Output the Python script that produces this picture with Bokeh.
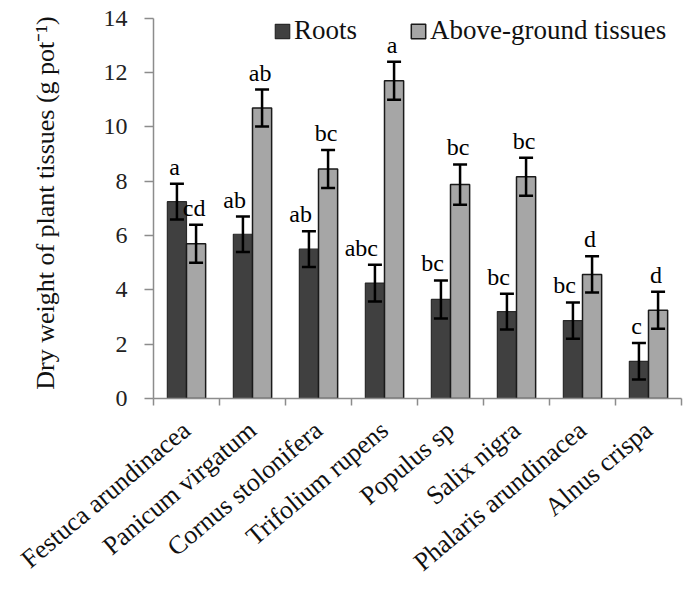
from bokeh.plotting import figure
from bokeh.models import (ColumnDataSource, FixedTicker, Range1d, Legend, LegendItem)
from bokeh.core.properties import value
from bokeh.embed import file_html
from bokeh.resources import INLINE

species = ["Festuca arundinacea", "Panicum virgatum", "Cornus stolonifera",
           "Trifolium rupens", "Populus sp", "Salix nigra",
           "Phalaris arundinacea", "Alnus crispa"]
roots = [7.25, 6.05, 5.5, 4.25, 3.65, 3.2, 2.87, 1.37]
roots_err = [0.66, 0.65, 0.66, 0.68, 0.70, 0.66, 0.67, 0.67]
above = [5.7, 10.7, 8.45, 11.7, 7.88, 8.17, 4.57, 3.25]
above_err = [0.70, 0.68, 0.70, 0.70, 0.74, 0.70, 0.67, 0.68]
roots_letters = ["a", "ab", "ab", "abc", "bc", "bc", "bc", "c"]
above_letters = ["cd", "ab", "bc", "a", "bc", "bc", "d", "d"]
y_ticks = [0, 2, 4, 6, 8, 10, 12, 14]

FONT = "Liberation Serif"
BW = 0.29
n = len(species)
centers = [i + 0.5 for i in range(n)]

src_r = ColumnDataSource(dict(
    x=[c - BW / 2 for c in centers], top=roots,
    lower=[v - e for v, e in zip(roots, roots_err)],
    upper=[v + e for v, e in zip(roots, roots_err)],
    lab=roots_letters))
src_a = ColumnDataSource(dict(
    x=[c + BW / 2 for c in centers], top=above,
    lower=[v - e for v, e in zip(above, above_err)],
    upper=[v + e for v, e in zip(above, above_err)],
    lab=above_letters))

p = figure(width=691, height=590, output_backend="svg", toolbar_location=None,
           x_range=Range1d(0, n), y_range=Range1d(0, 14.4),
           min_border_left=153, min_border_right=10, min_border_top=7,
           min_border_bottom=192)
p.outline_line_color = None
p.grid.visible = False
p.background_fill_color = "white"

r1 = p.vbar(x="x", top="top", bottom=0, width=BW, source=src_r, fill_color="#404040",
            line_color="#2a2a2a", line_width=1.2)
r2 = p.vbar(x="x", top="top", bottom=0, width=BW, source=src_a, fill_color="#a6a6a6",
            line_color="#1a1a1a", line_width=1.5)

for s in (src_r, src_a):
    p.segment(x0="x", y0="lower", x1="x", y1="upper", source=s,
              line_color="black", line_width=2.5)
    p.scatter(x="x", y="lower", source=s, marker="dash", size=14,
              line_color="black", line_width=2.5)
    p.scatter(x="x", y="upper", source=s, marker="dash", size=14,
              line_color="black", line_width=2.5)

p.text(x="x", y="upper", text="lab", source=src_r, text_align="right",
       text_baseline="bottom", x_offset=3, y_offset=-4,
       text_font=value(FONT), text_font_size="24px", text_color="black")
p.text(x="x", y="upper", text="lab", source=src_a, text_align="center",
       text_baseline="bottom", x_offset=-2, y_offset=-4,
       text_font=value(FONT), text_font_size="24px", text_color="black")

# y axis (line limited to 0..14)
ya = p.yaxis[0]
ya.ticker = FixedTicker(ticks=y_ticks)
ya.bounds = (0, 14)
ya.axis_line_color = "#8c8c8c"
ya.axis_line_width = 1.5
ya.major_tick_line_color = "#8c8c8c"
ya.major_tick_line_width = 1.5
ya.major_tick_out = 9
ya.major_tick_in = 0
ya.minor_tick_line_color = None
ya.major_label_text_font = FONT
ya.major_label_text_font_size = "24px"
ya.major_label_text_color = "#222222"
ya.major_label_standoff = 17
ya.axis_label = "Dry weight of plant tissues (g pot\u207b\u00b9)"
ya.axis_label_text_font = FONT
ya.axis_label_text_font_size = "26px"
ya.axis_label_text_font_style = "normal"
ya.axis_label_text_color = "#111111"
ya.axis_label_standoff = 41

# x axis: names at the categories, ticks between categories
xa = p.xaxis[0]
xa.ticker = FixedTicker(ticks=centers, minor_ticks=list(range(n + 1)))
xa.major_label_overrides = {c: s for c, s in zip(centers, species)}
xa.major_label_orientation = 0.70
xa.major_label_text_font = FONT
xa.major_label_text_font_size = "26px"
xa.major_label_text_color = "#111111"
xa.major_label_standoff = 21
xa.major_tick_out = 0
xa.major_tick_in = 0
xa.major_tick_line_color = None
xa.minor_tick_out = 7
xa.minor_tick_in = 0
xa.minor_tick_line_color = "#8c8c8c"
xa.minor_tick_line_width = 1.5
xa.axis_line_color = "#8c8c8c"
xa.axis_line_width = 1.5

legend = Legend(items=[LegendItem(label="Roots", renderers=[r1]),
                       LegendItem(label="Above-ground tissues", renderers=[r2])],
                orientation="horizontal", location=(120, 352),
                label_text_font=FONT, label_text_font_size="27px",
                label_text_color="#111111",
                glyph_width=18, glyph_height=18, label_standoff=3, spacing=52,
                padding=0, margin=0, border_line_color=None,
                background_fill_alpha=0)
p.add_layout(legend)

open("out.html", "w").write(file_html(p, INLINE))
